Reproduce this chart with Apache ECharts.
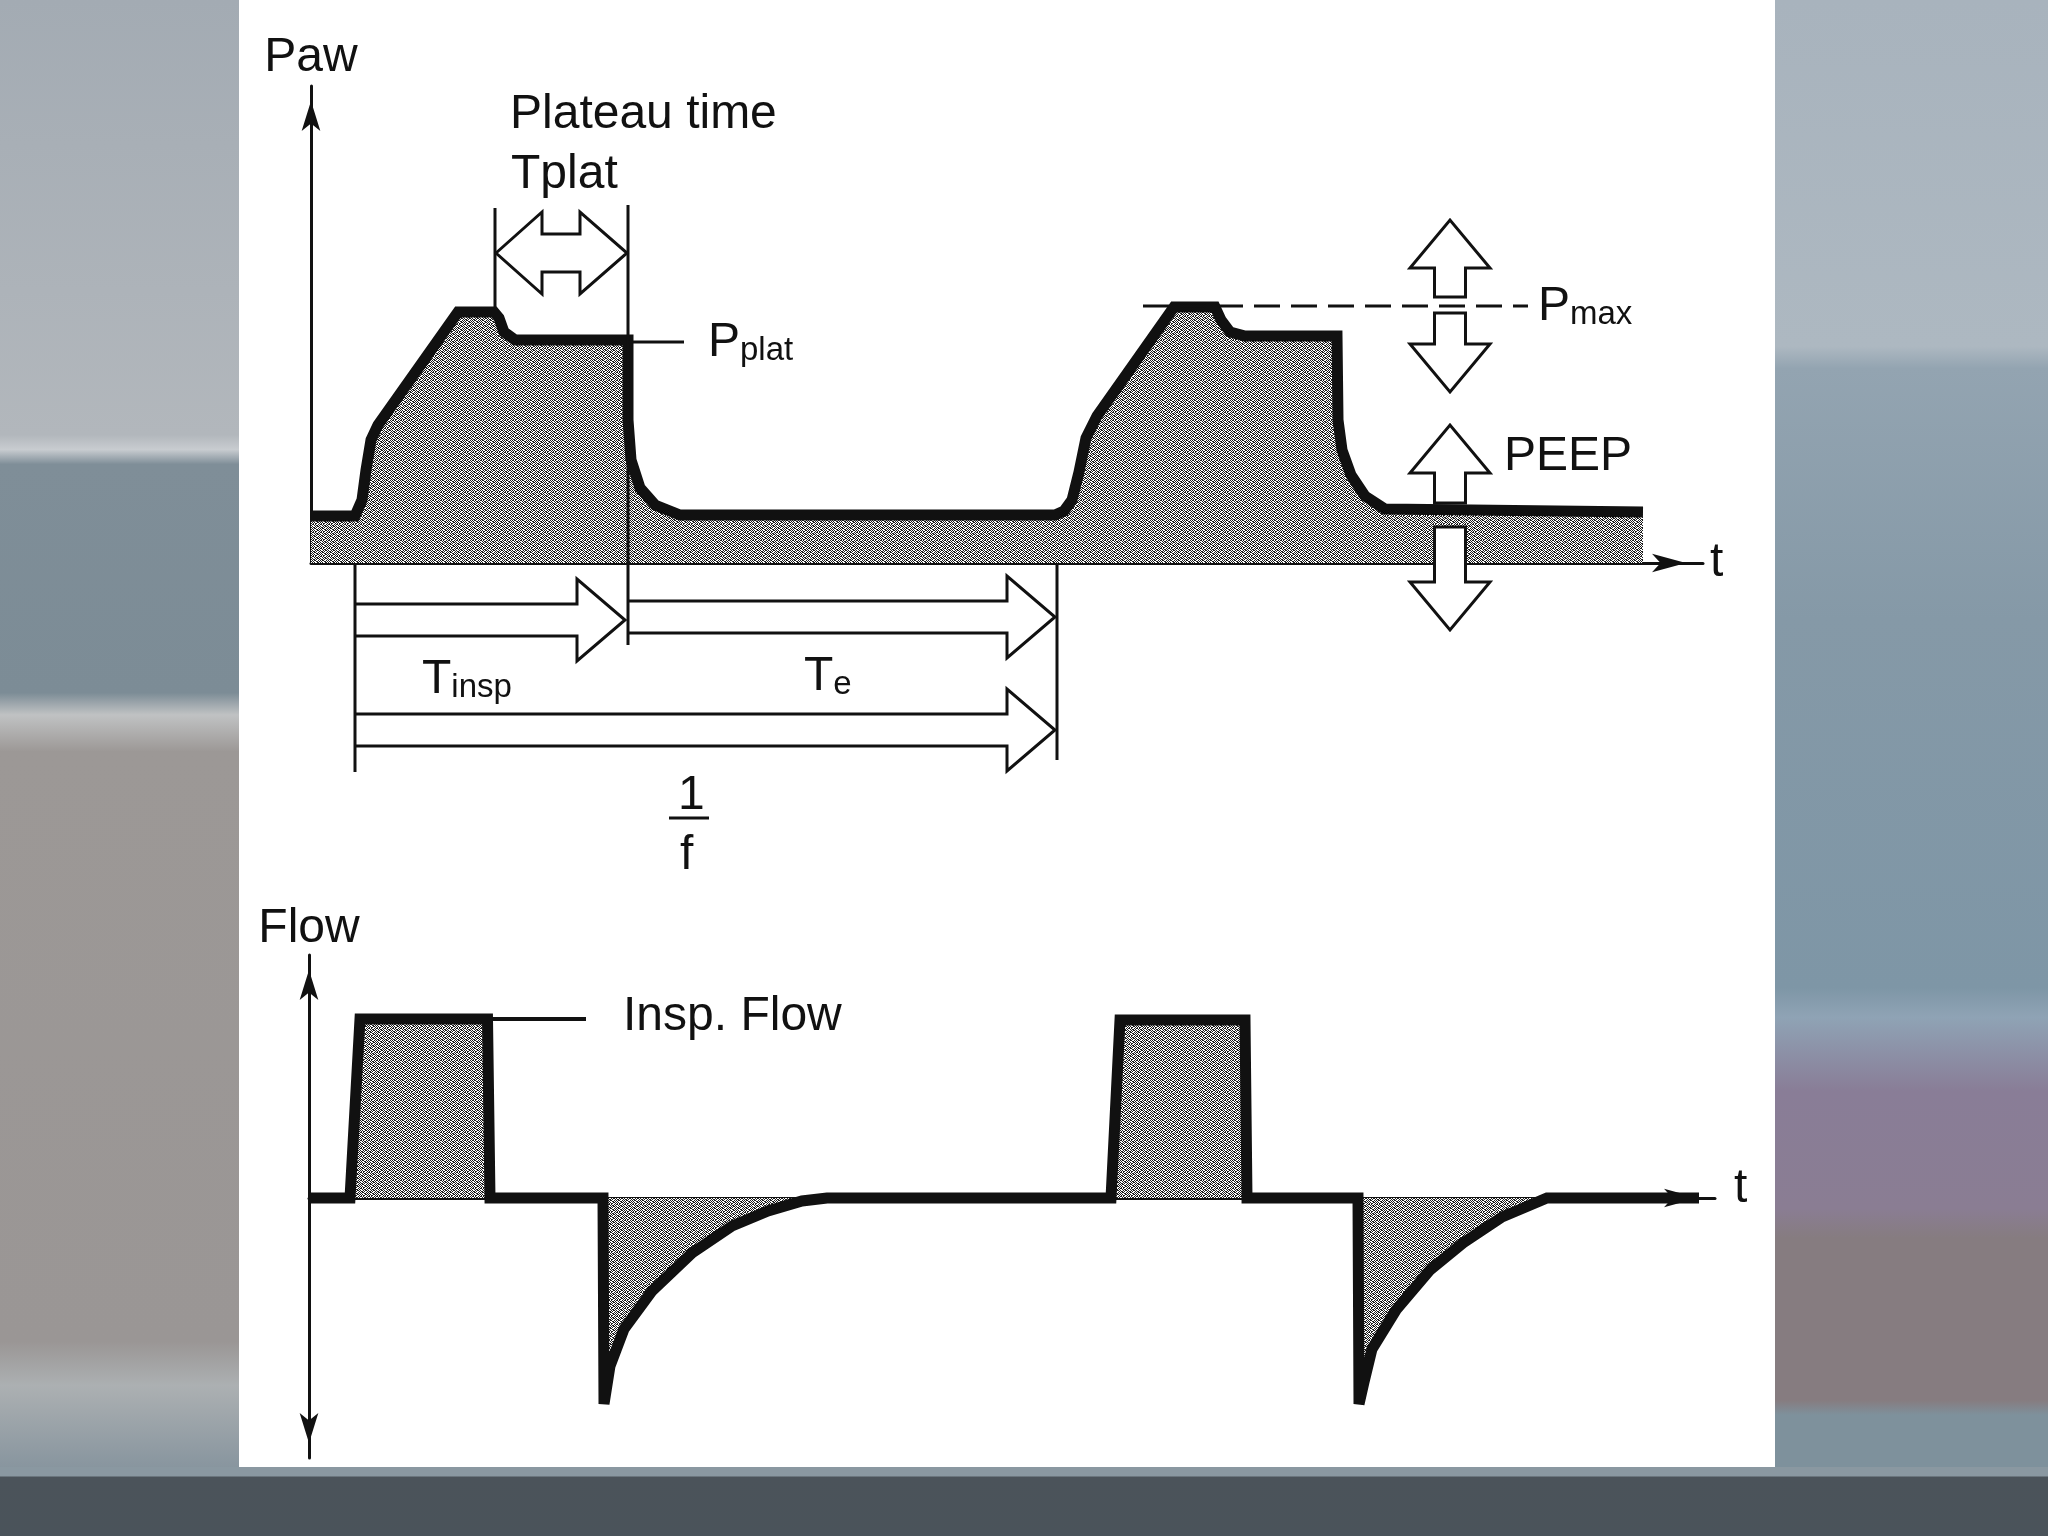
<!DOCTYPE html>
<html>
<head>
<meta charset="utf-8">
<title>Paw / Flow</title>
<script src="https://cdn.jsdelivr.net/npm/echarts@6/dist/echarts.min.js"></script>
<style>
  html, body { margin: 0; padding: 0; }
  body { width: 2048px; height: 1536px; overflow: hidden; position: relative; background: #4a5259; }
  .bg { position: absolute; }
  #bgLeft {
    left: 0; top: 0; width: 239px; height: 1474px;
    background: linear-gradient(to bottom, #a3abb3 0%, #b2b7bc 29.5%, #c8ccd0 30.5%, #7f8e98 31.5%, #7c8c96 47%,
      #c0c2c3 48.5%, #9c9896 51%, #9a9695 91%, #acb0b2 94%, #85939d 100%);
  }
  #bgRight {
    left: 1775px; top: 0; width: 273px; height: 1474px;
    background: linear-gradient(to bottom, #a8b3bd 0%, #adb8c1 23.5%, #93a4b1 25%, #8599a7 42%, #7e96a6 67%,
      #8fa3b5 69%, #897d97 74%, #8a7d93 82%, #867c80 84%, #867c80 95%, #7e919c 96%, #7e919c 100%);
  }
  #bgBottom { left: 0; top: 1467px; width: 2048px; height: 69px;
    background: linear-gradient(to bottom, #8a98a1 0px, #8a98a1 9px, #4b535a 10px, #4a535a 100%); }
  #panel { left: 239px; top: 0; width: 1536px; height: 1467px; background: #fff; }
  #chart { position: absolute; left: 0; top: 0; width: 2048px; height: 1536px; }
</style>
</head>
<body>
<div class="bg" id="bgLeft"></div>
<div class="bg" id="bgRight"></div>
<div class="bg" id="bgBottom"></div>
<div class="bg" id="panel"></div>
<div id="chart"></div>
<script>
// airway pressure curve (time, pressure) - two breaths
const pawTime = [0, 4.4, 5.1, 5.5, 6.0, 6.7, 14.7, 18.3, 18.8, 19.3, 20.4, 31.7, 31.7, 32.0, 32.9, 34.4, 36.9,
  74.4, 75.3, 76.1, 76.8, 77.5, 78.6, 86.3, 90.4, 91.0, 91.9, 93.4, 102.6, 102.7, 103.1, 104.0, 105.4, 107.4, 133.2];
const pawValue = [4.7, 4.7, 6.3, 9.3, 12.3, 13.8, 25.1, 25.1, 24.5, 23.1, 22.3, 22.3, 14.3, 10.3, 7.5, 5.8, 4.8,
  4.8, 5.2, 6.3, 9.1, 12.5, 14.7, 25.6, 25.6, 24.3, 23.1, 22.7, 22.7, 14.3, 11.3, 8.8, 6.7, 5.4, 5.1];

// flow curve (time, flow)
const flowTime = [0, 4.1, 5.1, 17.85, 18.1, 29.4, 29.5, 30.1, 31.5, 34.3, 38.3, 42.3, 45.9, 49.3, 51.8,
  80.2, 81.1, 93.6, 93.8, 104.9, 105.0, 105.5, 106.3, 108.7, 112.1, 115.4, 119.3, 123.8, 139];
const flowValue = [0, 0, 17.9, 17.9, 0, 0, -20.6, -16.8, -13.1, -9.3, -5.5, -2.8, -1.3, -0.3, 0,
  0, 17.8, 17.8, 0, 0, -20.6, -18.4, -15.1, -11.2, -7.2, -4.5, -1.9, 0, 0];

// timing arrows below the Paw axis: [start, tip, level]  (Tinsp, Te, 1/f)
const timeArrows = [[4.4, 31.4, -5.7], [31.7, 74.4, -5.4], [4.4, 74.4, -16.7]];
// plateau time double arrow: [left tip, right tip, level]
const plateauArrow = [[18.5, 31.6, 31.0]];
// adjustable limits: [time, shaft end, tip]  (Pmax up/down, PEEP up/down)
const limitArrows = [[113.9, 26.6, 34.3], [113.9, 25.0, 17.1], [113.9, 6.0, 13.8], [113.9, 3.6, -6.7]];
// thin guide lines in Paw units: [t0, p0, t1, p1]
const pawGuides = [[18.4, 35.5, 18.4, 25.6], [31.7, 35.8, 31.7, -8.2], [4.4, 0, 4.4, -20.9],
  [74.6, 0, 74.6, -19.7], [31.7, 22.1, 37.3, 22.1], [35.8, -25.5, 39.8, -25.5]];
const pmaxLine = [[83.2, 25.7, 121.7, 25.7]];
const flowGuides = [[18.2, 17.9, 27.7, 17.9]];

// labels: [t, value, text]
const pawNotes = [
  [19.9, 44.8, 'Plateau time'],
  [20.0, 38.8, 'Tplat'],
  [39.7, 22.0, '{b|P}{s|plat}'],
  [122.7, 25.6, '{b|P}{s|max}'],
  [119.3, 10.6, 'PEEP'],
  [11.1, -11.7, '{b|T}{s|insp}'],
  [49.3, -11.4, '{b|T}{s|e}'],
  [36.7, -23.3, '1'],
  [36.9, -29.3, 'f']
];
const flowNotes = [[31.4, 18.1, 'Insp. Flow'], [142.5, 0.9, 't']];

const INK = '#111111';
const FONT = '"Liberation Sans", Arial, Helvetica, sans-serif';

// halftone texture like the printed original
const STIPPLE = ['10110010', '01001101', '10100110', '01011001', '11010010', '00101101', '10010110', '01101001'];
function makeStipple() {
  const c = document.createElement('canvas');
  c.width = 8;
  c.height = 8;
  const ctx = c.getContext('2d');
  ctx.fillStyle = '#ffffff';
  ctx.fillRect(0, 0, 8, 8);
  ctx.fillStyle = '#1c1c1c';
  STIPPLE.forEach((row, y) => {
    row.split('').forEach((b, x) => {
      if (b === '1') ctx.fillRect(x, y, 1, 1);
    });
  });
  return c;
}
const stipple = { image: makeStipple(), repeat: 'repeat' };

const RICH = {
  b: { fontSize: 48, fontFamily: FONT, fill: INK, verticalAlign: 'bottom' },
  s: { fontSize: 33, fontFamily: FONT, fill: INK, verticalAlign: 'bottom' }
};

function segmentSeries(rows, gridIdx, width, dash) {
  return {
    type: 'custom',
    xAxisIndex: gridIdx,
    yAxisIndex: gridIdx,
    z: 4,
    silent: true,
    data: rows,
    renderItem: (params, api) => {
      const a = api.coord([api.value(0), api.value(1)]);
      const b = api.coord([api.value(2), api.value(3)]);
      return {
        type: 'line',
        shape: { x1: a[0], y1: a[1], x2: b[0], y2: b[1] },
        style: { stroke: INK, lineWidth: width, lineDash: dash || null }
      };
    }
  };
}

function noteSeries(notes, gridIdx) {
  return {
    type: 'custom',
    xAxisIndex: gridIdx,
    yAxisIndex: gridIdx,
    z: 6,
    silent: true,
    data: notes.map(n => [n[0], n[1]]),
    renderItem: (params, api) => {
      const p = api.coord([api.value(0), api.value(1)]);
      return {
        type: 'text',
        style: {
          x: p[0], y: p[1],
          text: notes[params.dataIndex][2],
          fontSize: 48, fontFamily: FONT, fill: INK,
          align: 'left', verticalAlign: 'middle',
          rich: RICH
        }
      };
    }
  };
}

const axisLineStyle = { color: INK, width: 3 };

const option = {
  animation: false,
  backgroundColor: 'transparent',
  grid: [
    { left: 311, top: 86, width: 1392, height: 477 },
    { left: 309, top: 955, width: 1406, height: 503 }
  ],
  xAxis: [
    {
      gridIndex: 0, type: 'value', min: 0, max: 139.2,
      name: 't', nameLocation: 'end', nameGap: 7,
      nameTextStyle: { fontSize: 48, fontFamily: FONT, color: INK },
      axisLine: { show: true, lineStyle: axisLineStyle, symbol: ['none', 'arrow'], symbolSize: [14, 34], symbolOffset: [0, -17] },
      axisTick: { show: false }, axisLabel: { show: false }, splitLine: { show: false }
    },
    {
      gridIndex: 1, type: 'value', min: 0, max: 140.6,
      axisLine: { show: true, onZero: true, lineStyle: axisLineStyle, symbol: ['none', 'arrow'], symbolSize: [14, 34], symbolOffset: [0, -17] },
      axisTick: { show: false }, axisLabel: { show: false }, splitLine: { show: false }
    }
  ],
  yAxis: [
    {
      gridIndex: 0, type: 'value', min: 0, max: 47.7,
      name: 'Paw', nameLocation: 'end', nameGap: 4,
      nameTextStyle: { fontSize: 48, fontFamily: FONT, color: INK },
      axisLine: { show: true, lineStyle: axisLineStyle, symbol: ['none', 'arrow'], symbolSize: [14, 30], symbolOffset: [0, -15] },
      axisTick: { show: false }, axisLabel: { show: false }, splitLine: { show: false }
    },
    {
      gridIndex: 1, type: 'value', min: -26, max: 24.3,
      name: 'Flow', nameLocation: 'end', nameGap: 2,
      nameTextStyle: { fontSize: 48, fontFamily: FONT, color: INK },
      axisLine: { show: true, lineStyle: axisLineStyle, symbol: ['arrow', 'arrow'], symbolSize: [14, 30], symbolOffset: [15, -15] },
      axisTick: { show: false }, axisLabel: { show: false }, splitLine: { show: false }
    }
  ],
  series: [
    {
      name: 'Paw',
      type: 'line',
      xAxisIndex: 0, yAxisIndex: 0,
      data: pawTime.map((t, i) => [t, pawValue[i]]),
      showSymbol: false,
      silent: true,
      z: 3,
      lineStyle: { color: INK, width: 11, join: 'miter', miterLimit: 3 },
      areaStyle: { color: stipple, opacity: 1 }
    },
    {
      name: 'Flow',
      type: 'line',
      xAxisIndex: 1, yAxisIndex: 1,
      data: flowTime.map((t, i) => [t, flowValue[i]]),
      showSymbol: false,
      silent: true,
      z: 3,
      lineStyle: { color: INK, width: 11, join: 'miter', miterLimit: 2 },
      areaStyle: { color: stipple, opacity: 1 }
    },
    segmentSeries(pawGuides, 0, 3),
    segmentSeries(pmaxLine, 0, 3, [26, 11]),
    segmentSeries(flowGuides, 1, 4),
    {
      // Tinsp / Te / 1/f block arrows
      type: 'custom',
      xAxisIndex: 0, yAxisIndex: 0,
      z: 5, silent: true,
      data: timeArrows,
      renderItem: (params, api) => {
        const a = api.coord([api.value(0), api.value(2)]);
        const b = api.coord([api.value(1), api.value(2)]);
        const y = a[1], x0 = a[0], x1 = b[0], xb = x1 - 48;
        return {
          type: 'polyline',
          shape: { points: [[x0, y - 16], [xb, y - 16], [xb, y - 41], [x1, y], [xb, y + 41], [xb, y + 16], [x0, y + 16]] },
          style: { stroke: INK, lineWidth: 3, fill: 'none' }
        };
      }
    },
    {
      // plateau time double arrow
      type: 'custom',
      xAxisIndex: 0, yAxisIndex: 0,
      z: 5, silent: true,
      data: plateauArrow,
      renderItem: (params, api) => {
        const a = api.coord([api.value(0), api.value(2)]);
        const b = api.coord([api.value(1), api.value(2)]);
        const y = a[1], xl = a[0], xr = b[0], bl = xl + 46, br = xr - 47;
        return {
          type: 'polygon',
          shape: { points: [[xl, y], [bl, y - 41], [bl, y - 19], [br, y - 19], [br, y - 41], [xr, y],
            [br, y + 41], [br, y + 19], [bl, y + 19], [bl, y + 41]] },
          style: { stroke: INK, lineWidth: 3, fill: '#ffffff' }
        };
      }
    },
    {
      // Pmax / PEEP adjustment arrows
      type: 'custom',
      xAxisIndex: 0, yAxisIndex: 0,
      z: 5, silent: true,
      data: limitArrows,
      renderItem: (params, api) => {
        const base = api.coord([api.value(0), api.value(1)]);
        const tip = api.coord([api.value(0), api.value(2)]);
        const x = base[0];
        const dir = tip[1] < base[1] ? -1 : 1;
        const yh = tip[1] - dir * 48;
        return {
          type: 'polygon',
          shape: { points: [[x - 15.5, base[1]], [x - 15.5, yh], [x - 40, yh], [x, tip[1]], [x + 40, yh],
            [x + 15.5, yh], [x + 15.5, base[1]]] },
          style: { stroke: INK, lineWidth: 3, fill: '#ffffff' }
        };
      }
    },
    noteSeries(pawNotes, 0),
    noteSeries(flowNotes, 1)
  ]
};

const chart = echarts.init(document.getElementById('chart'));
chart.setOption(option);
</script>
</body>
</html>
